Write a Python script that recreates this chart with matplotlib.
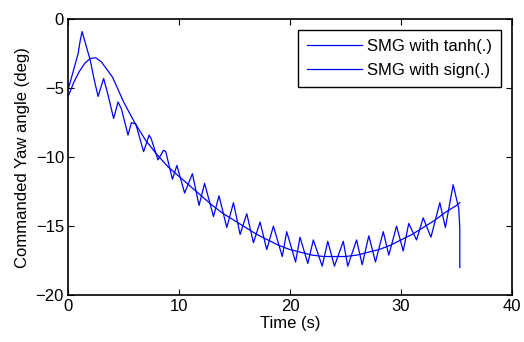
import matplotlib
matplotlib.use("Agg")
import matplotlib.pyplot as plt

# SMG with tanh(.) - smooth commanded yaw angle
t_tanh = [0, 0.5, 1, 1.5, 2, 2.5, 3, 4, 5, 6, 7, 8, 9, 10, 11, 12, 13, 14, 15, 16,
          17, 18, 19, 20, 21, 22, 23, 24, 25, 26, 27, 28, 29, 30, 31, 32, 33, 34, 35, 35.3]
y_tanh = [-5.6, -4.6, -3.8, -3.2, -2.85, -2.8, -3.1, -4.2, -6.0, -7.5, -8.8, -9.8, -10.7,
          -11.4, -12.1, -12.8, -13.5, -14.1, -14.6, -15.1, -15.6, -16.0, -16.4, -16.7, -16.9,
          -17.1, -17.2, -17.2, -17.2, -17.1, -16.9, -16.7, -16.4, -16.0, -15.6, -15.1,
          -14.6, -14.0, -13.5, -13.3]

# SMG with sign(.) - chattering commanded yaw angle
t_sign = [0, 0.9, 1.1, 1.26, 2.0, 2.3, 2.7, 3.2, 3.6, 4.1, 4.5, 4.8, 5.4, 5.7, 6.1, 6.8, 7.3,
          7.5, 8.1, 8.6, 8.8, 9.4, 9.8, 10.5, 11.2, 11.8, 12.3, 13.1, 13.6, 14.3, 14.9, 15.5,
          16.1, 16.7, 17.3, 17.9, 18.5, 19.3, 19.7, 20.5, 20.9, 21.6, 22.1, 22.9, 23.4, 24.0,
          24.8, 25.2, 26.0, 26.5, 27.1, 27.7, 28.4, 28.9, 29.6, 30.2, 30.7, 31.4, 32.0, 32.7,
          33.5, 34.0, 34.7, 35.2, 35.3, 35.3]
y_sign = [-5.1, -2.5, -1.5, -0.9, -3.0, -4.2, -5.6, -4.3, -5.5, -7.2, -6.0, -6.5, -8.4, -7.5,
          -7.6, -9.6, -8.4, -8.7, -10.2, -9.5, -9.6, -11.6, -10.6, -12.6, -11.2, -13.5, -11.9,
          -14.3, -12.8, -15.1, -13.3, -15.6, -14.1, -16.2, -14.7, -16.7, -15.0, -17.2, -15.4,
          -17.6, -15.8, -17.7, -16.0, -17.9, -16.1, -17.9, -16.1, -17.9, -16.0, -17.8, -15.7,
          -17.6, -15.4, -17.1, -15.0, -16.8, -14.8, -16.0, -14.4, -15.8, -13.3, -15.1, -12.0,
          -13.7, -15.1, -18.0]

plt.rcParams["font.family"] = ["Liberation Sans", "DejaVu Sans"]
plt.rcParams["font.size"] = 12

fig = plt.figure(figsize=(5.24, 3.42), dpi=100)
ax = fig.add_axes([0.130, 0.137, 0.847, 0.807])

ax.plot(t_tanh, y_tanh, color="#0000ff", linewidth=0.9, label="SMG with tanh(.)")
ax.plot(t_sign, y_sign, color="#0000ff", linewidth=0.9, label="SMG with sign(.)")

ax.set_xlim(0, 40)
ax.set_ylim(-20, 0)
ax.set_xticks([0, 10, 20, 30, 40])
ax.set_yticks([-20, -15, -10, -5, 0])
ax.tick_params(direction="in", top=True, right=True, length=4, width=0.8, pad=3)
for s in ax.spines.values():
    s.set_linewidth(1.2)

ax.set_xlabel("Time (s)", labelpad=1)
ax.set_ylabel("Commanded Yaw angle (deg)", labelpad=4)

leg = ax.legend(loc="upper right", fancybox=False, edgecolor="black", framealpha=1,
                handlelength=3.3, handletextpad=0.3, borderpad=0.55, labelspacing=0.55,
                borderaxespad=0.65)
leg.get_frame().set_linewidth(1.0)

fig.savefig("out.png", dpi=100)
